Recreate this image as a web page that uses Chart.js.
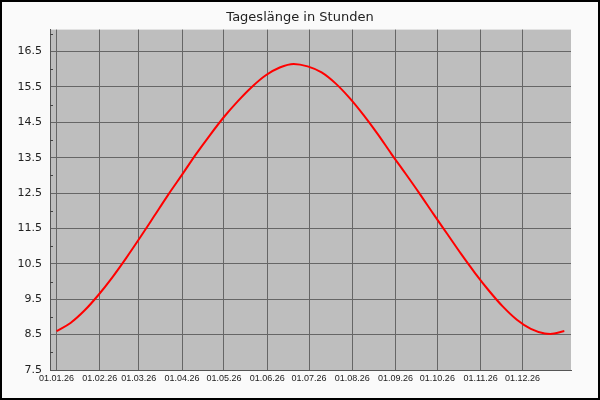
<!DOCTYPE html>
<html>
<head>
<meta charset="utf-8">
<script src="https://cdn.jsdelivr.net/npm/chart.js@4/dist/chart.umd.min.js"></script>
<style>
html, body { margin: 0; padding: 0; background: #fafafa; }
#wrap { width: 600px; height: 400px; }
</style>
</head>
<body>
<div id="wrap"><canvas id="dayChart" width="600" height="400"></canvas></div>
<script>
// day of year (0 = 01.01.26) and day length in hours
const days  = [0, 10, 20, 30, 40, 50, 60, 70, 80, 90, 100, 110, 120, 130, 140, 150, 160, 170,
               180, 190, 200, 210, 220, 230, 240, 250, 260, 270, 280, 290, 300, 310, 320, 330, 340, 350, 354, 364];
const hours = [8.60, 8.83, 9.18, 9.62, 10.12, 10.67, 11.25, 11.85, 12.45, 13.02, 13.60, 14.14, 14.65, 15.10, 15.50, 15.83, 16.05, 16.15,
               16.08, 15.91, 15.60, 15.19, 14.71, 14.18, 13.61, 13.06, 12.50, 11.92, 11.35, 10.78, 10.24, 9.74, 9.29, 8.92, 8.66, 8.53, 8.52, 8.60];

// month starts and their labels
const monthDays = [0, 31, 59, 90, 120, 151, 181, 212, 243, 273, 304, 334];
const monthLabels = ['01.01.26', '01.02.26', '01.03.26', '01.04.26', '01.05.26', '01.06.26',
                     '01.07.26', '01.08.26', '01.09.26', '01.10.26', '01.11.26', '01.12.26'];

const yTicks = [7.5, 8.5, 9.5, 10.5, 11.5, 12.5, 13.5, 14.5, 15.5, 16.5];
const yMinor = [8, 9, 10, 11, 12, 13, 14, 15, 16, 17];

// grey plot background, page border and little minor ticks
const framePlugin = {
    id: 'frame',
    beforeDraw(chart) {
        const ctx = chart.ctx;
        const a = chart.chartArea;
        ctx.save();
        ctx.fillStyle = '#fafafa';
        ctx.fillRect(0, 0, chart.width, chart.height);
        ctx.fillStyle = '#bebebe';
        ctx.fillRect(a.left, a.top, a.right - a.left, a.bottom - a.top);
        ctx.restore();
    },
    afterDraw(chart) {
        const ctx = chart.ctx;
        const a = chart.chartArea;
        const y = chart.scales.y;
        ctx.save();
        ctx.strokeStyle = '#444';
        ctx.lineWidth = 1;
        ctx.beginPath();
        yMinor.forEach(v => {
            const py = Math.round(y.getPixelForValue(v)) + 0.5;
            ctx.moveTo(a.left, py);
            ctx.lineTo(a.left + 3, py);
        });
        ctx.stroke();
        ctx.strokeStyle = '#000';
        ctx.lineWidth = 2;
        ctx.strokeRect(1, 1, chart.width - 2, chart.height - 2);
        ctx.restore();
    }
};

const ctx = document.getElementById('dayChart').getContext('2d');
new Chart(ctx, {
    type: 'line',
    data: {
        datasets: [{
            data: days.map((d, i) => ({ x: d, y: hours[i] })),
            borderColor: '#ff0000',
            borderWidth: 2,
            pointRadius: 0,
            fill: false,
            cubicInterpolationMode: 'monotone'
        }]
    },
    options: {
        responsive: false,
        animation: false,
        devicePixelRatio: 1,
        layout: { padding: 0 },
        plugins: {
            legend: { display: false },
            tooltip: { enabled: false },
            title: {
                display: true,
                text: 'Tageslänge in Stunden',
                color: '#222',
                font: { family: 'DejaVu Sans', size: 13, weight: 'normal' },
                padding: { top: 10, bottom: 4 }
            }
        },
        scales: {
            x: {
                type: 'linear',
                min: -4.7,
                max: 368.8,
                afterBuildTicks: s => { s.ticks = monthDays.map(v => ({ value: v })); },
                afterFit: s => { s.height = 30; },
                ticks: {
                    autoSkip: false,
                    maxRotation: 0,
                    padding: 3,
                    color: '#222',
                    font: { family: 'Liberation Sans', size: 9 },
                    callback: v => monthLabels[monthDays.indexOf(v)]
                },
                grid: { color: '#666', drawTicks: false },
                border: { color: '#555' }
            },
            y: {
                min: 7.5,
                max: 17.12,
                afterBuildTicks: s => { s.ticks = yTicks.map(v => ({ value: v })); },
                afterFit: s => { s.width = 50; },
                ticks: {
                    padding: 8,
                    color: '#222',
                    font: { family: 'DejaVu Sans', size: 11 },
                    callback: v => v.toFixed(1)
                },
                grid: { color: '#666', drawTicks: false },
                border: { color: '#555' }
            },
            // empty right axis only to keep the right margin
            yRight: {
                position: 'right',
                min: 0,
                max: 1,
                afterFit: s => { s.width = 29; },
                ticks: { display: false },
                grid: { display: false, drawTicks: false },
                border: { display: false }
            }
        }
    },
    plugins: [framePlugin]
});
</script>
</body>
</html>
